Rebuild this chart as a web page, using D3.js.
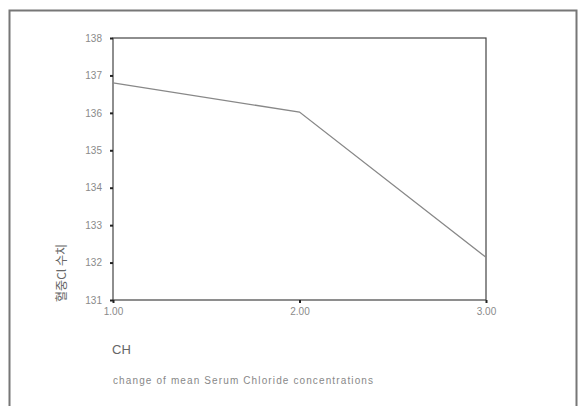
<!DOCTYPE html>
<html>
<head>
<meta charset="utf-8">
<script src="https://cdn.jsdelivr.net/npm/d3@7"></script>
<style>
  body { margin: 0; background: #fff; }
  svg { display: block; font-family: "Liberation Sans", Arial, sans-serif; }
  .tick text { fill: #8a8a8a; font-size: 10px; }
</style>
</head>
<body>
<script>
// chart data
var groups = [1, 2, 3];
var meanCl = [136.8, 136.02, 132.14];
var yTicks = [131, 132, 133, 134, 135, 136, 137, 138];
var xTicks = [1, 2, 3];

var width = 579, height = 406;
var plot = { left: 113, top: 38, right: 486, bottom: 300 };

var svg = d3.select("body").append("svg")
  .attr("width", width)
  .attr("height", height);

// outer frame (bottom edge is cut off in the original)
svg.append("path")
  .attr("d", "M9.5,406 V10.5 H576.5 V406")
  .attr("fill", "none")
  .attr("stroke", "#777")
  .attr("stroke-width", 2);

var x = d3.scaleLinear().domain([1, 3]).range([plot.left, plot.right]);
var y = d3.scaleLinear().domain([131, 138]).range([plot.bottom, plot.top]);

// plot box
svg.append("rect")
  .attr("x", plot.left)
  .attr("y", plot.top)
  .attr("width", plot.right - plot.left)
  .attr("height", plot.bottom - plot.top)
  .attr("fill", "none")
  .attr("stroke", "#444")
  .attr("stroke-width", 1.2);

var yAxis = svg.append("g")
  .attr("transform", "translate(" + plot.left + ",0)")
  .call(d3.axisLeft(y).tickValues(yTicks).tickSize(3).tickPadding(8).tickFormat(d3.format("d")));
yAxis.select(".domain").remove();
yAxis.selectAll(".tick line").attr("stroke", "#222").attr("stroke-width", 2);

var xAxis = svg.append("g")
  .attr("transform", "translate(0," + plot.bottom + ")")
  .call(d3.axisBottom(x).tickValues(xTicks).tickSize(3).tickPadding(5).tickFormat(d3.format(".2f")));
xAxis.select(".domain").remove();
xAxis.selectAll(".tick line").attr("stroke", "#222").attr("stroke-width", 2);

// mean line
var line = d3.line()
  .x(function(d, i) { return x(groups[i]); })
  .y(function(d) { return y(d); });

svg.append("path")
  .datum(meanCl)
  .attr("d", line)
  .attr("fill", "none")
  .attr("stroke", "#888")
  .attr("stroke-width", 1.3);

// y axis title
svg.append("text")
  .attr("transform", "translate(66,273) rotate(-90)")
  .attr("text-anchor", "middle")
  .attr("font-family", "Noto Sans CJK KR")
  .attr("font-size", 12)
  .attr("fill", "#666")
  .text("혈중Cl 수치");

// x axis title and caption
svg.append("text")
  .attr("x", 112)
  .attr("y", 354)
  .attr("font-size", 13)
  .attr("fill", "#666")
  .text("CH");

svg.append("text")
  .attr("x", 113)
  .attr("y", 384)
  .attr("font-size", 10)
  .attr("textLength", 260)
  .attr("fill", "#888")
  .text("change of mean Serum Chloride concentrations");
</script>
</body>
</html>
